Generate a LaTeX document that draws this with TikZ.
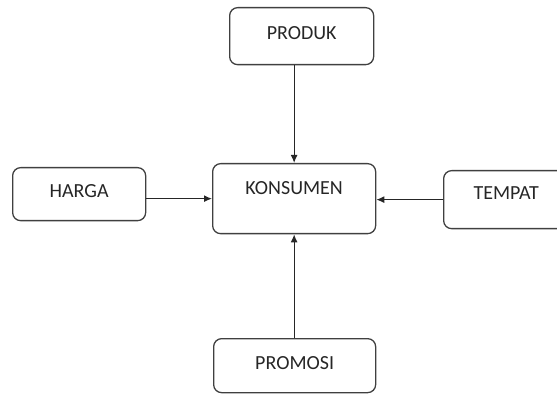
\documentclass[tikz,border=0pt]{standalone}
\usepackage{fontspec}
\setmainfont{Carlito}
\usetikzlibrary{arrows.meta}

\begin{document}
\begin{tikzpicture}[x=1pt,y=1pt,>={Latex[length=8pt,width=7pt]},
  box/.style={draw=black!75,line width=1.3pt,rounded corners=8pt,anchor=north west,
    inner sep=0pt,text height=30pt,font=\fontsize{20}{24}\selectfont,text=black!85},
  arr/.style={->,line width=1.3pt,black!85}]
  \useasboundingbox (0,0) rectangle (557,394);
  \node[box,minimum width=144pt,text height=31.5pt,text depth=25.5pt](produk) at (229,387){PRODUK};
  \node[box,minimum width=163pt,text height=30.5pt,text depth=39.5pt](konsumen) at (212,231){KONSUMEN};
  \node[box,minimum width=133pt,text height=29.5pt,text depth=23.5pt](harga) at (12,227){HARGA};
  \node[box,minimum width=125pt,text height=28.5pt,text depth=29.5pt](tempat) at (443,224){TEMPAT};
  \node[box,minimum width=162pt,text height=30.5pt,text depth=23.5pt](promosi) at (213,56){PROMOSI};
  \draw[arr](produk.south -| konsumen.north)--(konsumen.north);
  \draw[arr](harga.east |- konsumen.west)--(konsumen.west);
  \draw[arr](tempat.west)--(tempat.west -| konsumen.east);
  \draw[arr](promosi.north -| konsumen.south)--(konsumen.south);
\end{tikzpicture}
\end{document}
